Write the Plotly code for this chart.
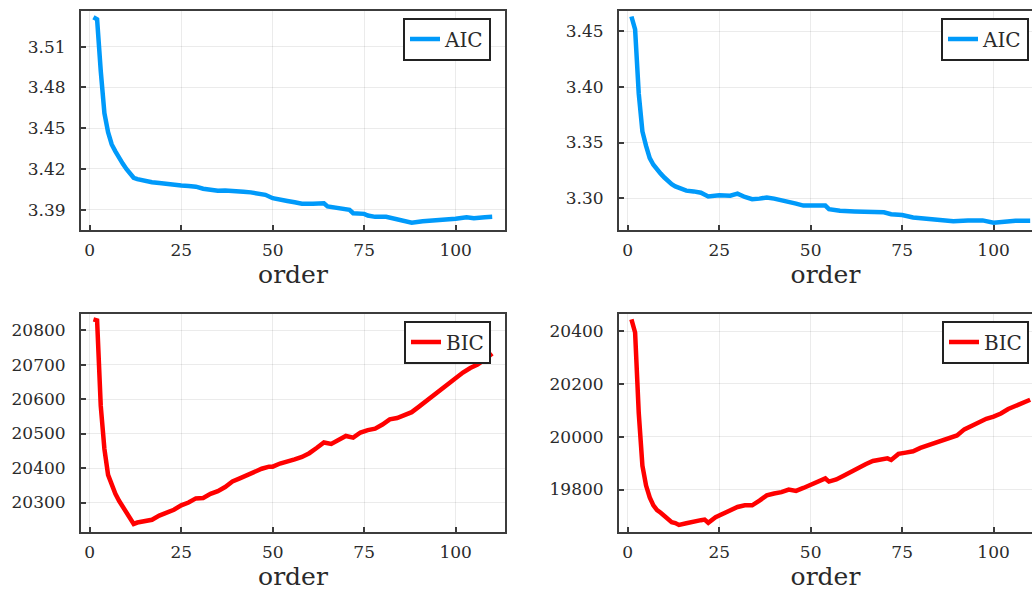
import plotly.graph_objects as go

# ---------------- data ----------------
aic_left_order = [1, 2, 3, 4, 5, 6, 7, 8, 9, 10, 11, 12, 13, 15, 17, 19, 21, 23, 25, 27, 29, 31, 33, 35, 37, 40,
                  42, 44, 46, 48, 50, 52, 54, 56, 58, 61, 64, 65, 68, 71, 72, 75, 76, 78, 81, 83, 85, 88, 91, 94,
                  97, 100, 103, 105, 108, 110]
aic_left = [3.5315, 3.5300, 3.4920, 3.4610, 3.4470, 3.4380, 3.4330, 3.4280, 3.4240, 3.4200, 3.4165, 3.4135,
            3.4125, 3.4112, 3.4103, 3.4097, 3.4090, 3.4080, 3.4078, 3.4075, 3.4070, 3.4055, 3.4048, 3.4040,
            3.4042, 3.4040, 3.4032, 3.4028, 3.4022, 3.4010, 3.3985, 3.3978, 3.3965, 3.3955, 3.3945, 3.3945,
            3.3948, 3.3925, 3.3912, 3.3900, 3.3875, 3.3870, 3.3858, 3.3848, 3.3848, 3.3838, 3.3825, 3.3805,
            3.3815, 3.3820, 3.3826, 3.3834, 3.3845, 3.3838, 3.3845, 3.3848]

aic_right_order = [1, 2, 3, 4, 5, 6, 7, 8, 9, 10, 11, 12, 13, 14, 16, 18, 20, 22, 25, 28, 30, 32, 34, 36, 38, 40,
                   42, 44, 46, 48, 50, 54, 55, 58, 62, 65, 70, 72, 75, 78, 82, 85, 87, 89, 93, 97, 100, 103, 106,
                   110]
aic_right = [3.4635, 3.4520, 3.3940, 3.3600, 3.3470, 3.3360, 3.3300, 3.3253, 3.3220, 3.3185, 3.3150, 3.3125,
             3.3105, 3.3090, 3.3067, 3.3060, 3.3048, 3.3015, 3.3025, 3.3022, 3.3040, 3.3010, 3.2990, 3.2995,
             3.3006, 3.2995, 3.2982, 3.2973, 3.2950, 3.2932, 3.2930, 3.2932, 3.2900, 3.2886, 3.2880, 3.2877,
             3.2872, 3.2855, 3.2847, 3.2826, 3.2814, 3.2810, 3.2800, 3.2792, 3.2799, 3.2799, 3.2778, 3.2790,
             3.2795, 3.2796]

bic_left_order = [1, 2, 3, 4, 5, 6, 7, 8, 9, 10, 11, 12, 13, 15, 17, 19, 21, 23, 25, 27, 29, 31, 33, 35, 37, 39,
                  41, 43, 45, 47, 49, 50, 52, 54, 56, 58, 60, 62, 64, 66, 68, 70, 72, 74, 76, 78, 80, 82, 84, 86,
                  88, 90, 92, 94, 96, 98, 100, 102, 104, 106, 108, 110]
bic_left = [20831, 20828, 20580, 20455, 20380, 20350, 20325, 20305, 20287, 20270, 20252, 20238, 20242, 20245,
            20250, 20262, 20270, 20279, 20292, 20300, 20312, 20313, 20325, 20333, 20345, 20361, 20370, 20380,
            20390, 20398, 20404, 20404, 20413, 20418, 20425, 20432, 20443, 20458, 20474, 20470, 20480, 20493,
            20488, 20503, 20510, 20514, 20526, 20541, 20545, 20554, 20562, 20578, 20595, 20610, 20628, 20643,
            20660, 20677, 20690, 20700, 20715, 20732]

bic_right_order = [1, 2, 3, 4, 5, 6, 7, 8, 9, 10, 11, 12, 13, 14, 16, 18, 20, 21, 22, 24, 26, 28, 30, 32, 34, 36,
                   38, 40, 42, 44, 46, 48, 50, 52, 54, 55, 57, 59, 61, 63, 65, 67, 69, 71, 72, 74, 76, 78, 80, 82,
                   84, 86, 88, 90, 92, 94, 96, 98, 100, 102, 104, 106, 108, 110]
bic_right = [20445, 20395, 20090, 19890, 19815, 19770, 19740, 19722, 19712, 19700, 19685, 19676, 19673, 19666,
             19672, 19680, 19684, 19686, 19674, 19695, 19708, 19718, 19734, 19740, 19740, 19758, 19778, 19785,
             19790, 19800, 19795, 19806, 19818, 19832, 19842, 19830, 19838, 19852, 19868, 19880, 19896, 19908,
             19915, 19918, 19912, 19935, 19940, 19945, 19958, 19968, 19975, 19988, 19995, 20005, 20028, 20042,
             20055, 20068, 20076, 20088, 20105, 20117, 20128, 20140]

x_ticks = [0, 25, 50, 75, 100]
y_ticks_tl = [3.39, 3.42, 3.45, 3.48, 3.51]
y_ticks_tr = [3.30, 3.35, 3.40, 3.45]
y_ticks_bl = [20300, 20400, 20500, 20600, 20700, 20800]
y_ticks_br = [19800, 20000, 20200, 20400]

# ---------------- figure ----------------
W, H = 1032, 591
FONT = "DejaVu Serif"
AXC = "rgb(60,60,60)"
BLUE = "#009AFA"
RED = "#FF0000"

fig = go.Figure()
fig.add_trace(go.Scatter(x=aic_left_order, y=aic_left, mode="lines", name="AIC",
                         line=dict(color=BLUE, width=4.5), xaxis="x", yaxis="y", legend="legend"))
fig.add_trace(go.Scatter(x=aic_right_order, y=aic_right, mode="lines", name="AIC",
                         line=dict(color=BLUE, width=4.5), xaxis="x2", yaxis="y2", legend="legend2"))
fig.add_trace(go.Scatter(x=bic_left_order, y=bic_left, mode="lines", name="BIC",
                         line=dict(color=RED, width=4.5), xaxis="x3", yaxis="y3", legend="legend3"))
fig.add_trace(go.Scatter(x=bic_right_order, y=bic_right, mode="lines", name="BIC",
                         line=dict(color=RED, width=4.5), xaxis="x4", yaxis="y4", legend="legend4"))

xl = [81 / W, 505 / W]
xr = [619 / W, 1.0]
yt = [1 - 229.5 / H, 1 - 10.5 / H]
yb = [1 - 531.5 / H, 1 - 313.5 / H]


def xaxis(domain, anchor, rng):
    return dict(domain=domain, anchor=anchor, range=rng, tickmode="array", tickvals=x_ticks,
                ticktext=[str(v) for v in x_ticks], ticks="inside", ticklen=5, tickwidth=1.5,
                tickcolor=AXC, showline=True, linecolor=AXC, linewidth=2, mirror=True,
                showgrid=True, gridcolor="rgba(0,0,0,0.08)", gridwidth=1, zeroline=False,
                tickfont=dict(family=FONT, size=17, color="#2a2a2a"), ticklabelstandoff=4,
                title=dict(text="order", font=dict(family=FONT, size=25, color="#2a2a2a"), standoff=6))


def yaxis(domain, anchor, rng, vals, txt, mirror):
    return dict(domain=domain, anchor=anchor, range=rng, tickmode="array", tickvals=vals, ticktext=txt,
                ticks="inside", ticklen=5, tickwidth=1.5, tickcolor=AXC, showline=True, linecolor=AXC,
                linewidth=2, mirror=mirror, showgrid=True, gridcolor="rgba(0,0,0,0.08)", gridwidth=1,
                zeroline=False, tickfont=dict(family=FONT, size=17, color="#2a2a2a"), ticklabelstandoff=10)


def legend(xr_px, ytop_px):
    return dict(x=xr_px / W, xanchor="right", y=1 - ytop_px / H, yanchor="top",
                bgcolor="white", bordercolor="#222", borderwidth=2,
                font=dict(family=FONT, size=20, color="#2a2a2a"))


fig.update_layout(
    width=W, height=H, margin=dict(l=0, r=0, t=0, b=0),
    paper_bgcolor="white", plot_bgcolor="white",
    xaxis=xaxis(xl, "y", [-2.4, 113.5]),
    xaxis2=xaxis(xr, "y2", [-2.4, 110.5]),
    xaxis3=xaxis(xl, "y3", [-2.4, 113.5]),
    xaxis4=xaxis(xr, "y4", [-2.4, 110.5]),
    yaxis=yaxis(yt, "x", [3.3755, 3.5365], y_ticks_tl, [f"{v:.2f}" for v in y_ticks_tl], True),
    yaxis2=yaxis(yt, "x2", [3.2717, 3.4689], y_ticks_tr, [f"{v:.2f}" for v in y_ticks_tr], False),
    yaxis3=yaxis(yb, "x3", [20216, 20848], y_ticks_bl, [str(v) for v in y_ticks_bl], True),
    yaxis4=yaxis(yb, "x4", [19641, 20467], y_ticks_br, [str(v) for v in y_ticks_br], False),
    legend=legend(491, 17.5),
    legend2=legend(1029, 17.5),
    legend3=legend(491, 320.5),
    legend4=legend(1029, 320.5),
    showlegend=True,
)

fig.write_html("out.html")
